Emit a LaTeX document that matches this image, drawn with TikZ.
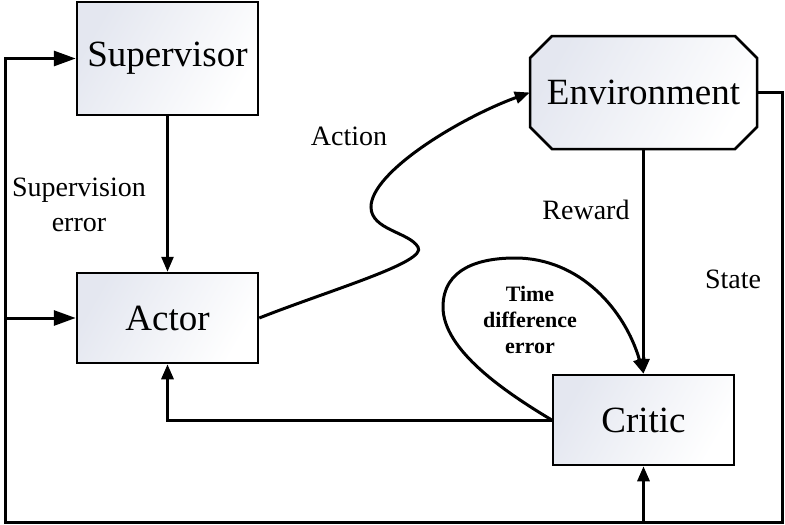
\documentclass[tikz,border=0pt]{standalone}
\usepackage{fontspec}
\setmainfont{Liberation Serif}
\usetikzlibrary{arrows.meta}
\definecolor{boxshade}{RGB}{228,231,240}
\tikzset{
  box/.style={draw=black, line width=2.5pt, rectangle, minimum width=181pt,
    left color=boxshade, right color=white, shading angle=60,
    font=\fontsize{37}{44}\selectfont, inner sep=0pt},
  lbl/.style={font=\fontsize{28}{35}\selectfont, align=center, inner sep=0pt},
  conn/.style={line width=3pt},
  arr/.style={conn, -{Triangle[length=15pt,width=12pt]}},
  bigarr/.style={conn, -{Triangle[length=22pt,width=15pt]}}
}
\begin{document}
\begin{tikzpicture}[x=1pt,y=-1pt]
\useasboundingbox (0,0) rectangle (785,525);
% boxes
\node[box, minimum height=113pt] (sup) at (167.5,58.5) {Supervisor};
\node[box, minimum height=90pt] (act) at (167.5,318) {Actor};
\node[box, minimum height=90pt] (crit) at (643.5,420) {Critic};
\draw[line width=2.5pt, left color=boxshade, right color=white, shading angle=60]
  (530,58) -- (552,36) -- (735,36) -- (757,58) -- (757,127) -- (735,149) -- (552,149) -- (530,127) -- cycle;
\node[rectangle, minimum width=227pt, minimum height=113pt, inner sep=0pt,
  font=\fontsize{37}{44}\selectfont] (env) at (643.5,92.5) {Environment};
% frame coordinates
\coordinate (br) at (782,522);
\coordinate (bl) at (5,522);
\coordinate (la) at (5,318);
\coordinate (cb) at (643.5,522);
% connectors
\draw[arr, line width=2.5pt] (sup.south) -- (act.north);
\draw[bigarr] (env.east) -| (br) -- (bl) |- (sup.west);
\draw[bigarr] (la) -- (act.west);
\draw[arr] (cb) -- (crit.south);
\draw[arr] (env.south) -- (crit.north);
\draw[arr] (crit.west) -| (act.south);
\draw[arr] (act.east) .. controls (330,290) and (428,262) .. (418,247)
  .. controls (409,232) and (371,230) .. (371,207)
  .. controls (371,172) and (460,118) .. (env.west);
\draw[arr] (crit.west) .. controls (505,392) and (443,350) .. (443,307)
  .. controls (443,268) and (480,258) .. (515,258)
  .. controls (580,258) and (625,310) .. (crit.north);
% labels
\node[lbl] (lsup) at (79,205) {Supervision\\error};
\node[lbl] (lact) at (349,136) {Action};
\node[lbl] (lrew) at (586,210) {Reward};
\node[lbl] (lsta) at (733,279) {State};
\node[font=\fontsize{22}{26}\selectfont\bfseries, align=center, inner sep=0pt] (ltde) at (530,320) {Time\\difference\\error};
\end{tikzpicture}
\end{document}
